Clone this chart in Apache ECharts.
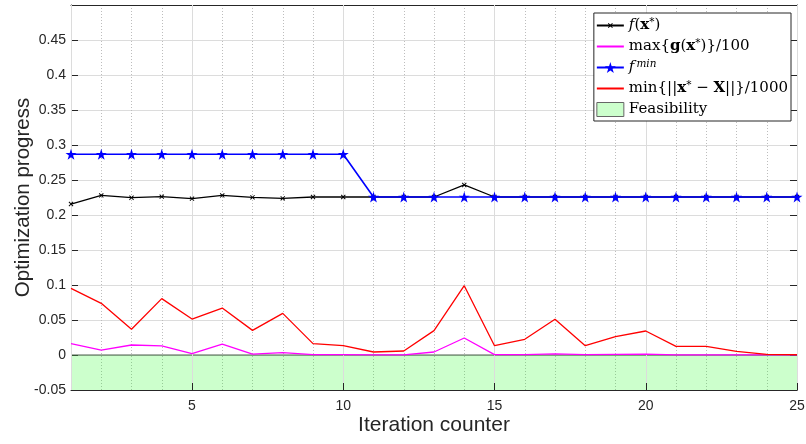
<!DOCTYPE html>
<html>
<head>
<meta charset="utf-8">
<script src="https://cdn.jsdelivr.net/npm/echarts@6/dist/echarts.min.js"></script>
<style>
  html, body { margin: 0; padding: 0; background: #fff; }
  #chart { width: 806px; height: 444px; }
</style>
</head>
<body>
<div id="chart"></div>
<script>
// Iteration index
const iterations = [1, 2, 3, 4, 5, 6, 7, 8, 9, 10, 11, 12, 13, 14, 15, 16, 17, 18, 19, 20, 21, 22, 23, 24, 25];
// Objective value at current point f(x*)
const fStar = [0.2157, 0.2280, 0.2247, 0.2262, 0.2233, 0.2280, 0.2252, 0.2238, 0.2257, 0.2257,
               0.2257, 0.2257, 0.2257, 0.2429, 0.2257, 0.2257, 0.2257, 0.2257, 0.2257, 0.2257,
               0.2257, 0.2257, 0.2257, 0.2257, 0.2257];
// Max constraint value / 100
const maxG = [0.0162, 0.0071, 0.0143, 0.0129, 0.0019, 0.0157, 0.0013, 0.0033, 0.0005, 0.0005,
              0.0002, 0.0002, 0.0043, 0.0243, 0.0005, 0.0005, 0.0015, 0.0005, 0.0008, 0.0012,
              0.0003, 0.0003, 0.0003, 0.0003, 0.0003];
// Best feasible objective so far
const fMin = [0.2867, 0.2867, 0.2867, 0.2867, 0.2867, 0.2867, 0.2867, 0.2867, 0.2867, 0.2867,
              0.2257, 0.2257, 0.2257, 0.2257, 0.2257, 0.2257, 0.2257, 0.2257, 0.2257, 0.2257,
              0.2257, 0.2257, 0.2257, 0.2257, 0.2257];
// Minimum distance to sample set / 1000
const minDist = [0.0952, 0.0738, 0.0367, 0.0805, 0.0514, 0.0671, 0.0352, 0.0595, 0.0162, 0.0133,
                 0.0043, 0.0057, 0.0348, 0.0990, 0.0133, 0.0224, 0.0510, 0.0133, 0.0262, 0.0343,
                 0.0124, 0.0124, 0.0052, 0.0010, 0.0005];
// Feasible region boundary (filled down to the axis minimum)
const feasX = [1, 25];
const feasY = [0, 0];
// Axis ranges and ticks
const xRange = [1, 25];
const yRange = [-0.05, 0.5];
const yStep = 0.05;

const pairs = (xs, ys) => xs.map((x, i) => [x, ys[i]]);

const axisColor = '#262626';
const sansFont = 'Liberation Sans, Arial, sans-serif';
const serifFont = 'DejaVu Serif, Liberation Serif, serif';
// Tiny corner specks pin each marker's bounding box, so the inner glyph keeps
// the same proportion in the plot and in the legend swatch.
const frame = 'M0,0L0.01,0L0,0.01Z M10,10L9.99,10L10,9.99Z ';
const crossMark = 'path://' + frame + 'M2.8,3.4L3.4,2.8L5,4.4L6.6,2.8L7.2,3.4L5.6,5L7.2,6.6L6.6,7.2L5,5.6L3.4,7.2L2.8,6.6L4.4,5Z';
const noMark = 'path://' + frame;
const starMark = 'path://M50,0L61.8,36.2L100,36.2L69.1,58.6L80.9,95.1L50,72.7L19.1,95.1L30.9,58.6L0,36.2L38.2,36.2Z';

const legendText = {
  fx: '{it|f}({b|x}{sup|*})',
  maxg: 'max{{b|g}({b|x}{sup|*})}/100',
  fmin: '{it|f}{supit|min}',
  dist: 'min{||{b|x}{sup|*} \u2212 {b|X}||}/1000',
  feas: 'Feasibility'
};

const chart = echarts.init(document.getElementById('chart'), null, { renderer: 'canvas' });

const option = {
  animation: false,
  backgroundColor: '#ffffff',
  grid: { left: 71, right: 9, top: 5, bottom: 54, containLabel: false, outerBoundsMode: 'none' },
  xAxis: [
    {
      type: 'value', min: xRange[0], max: xRange[1],
      name: 'Iteration counter', nameLocation: 'middle', nameGap: 25, nameMoveOverlap: false,
      nameTextStyle: { fontFamily: sansFont, fontSize: 21, color: axisColor },
      axisLine: { show: true, onZero: false, lineStyle: { color: axisColor, width: 1 } },
      axisTick: { show: true, inside: true, length: 7, lineStyle: { color: axisColor } },
      axisLabel: { showMinLabel: false, margin: 9, fontFamily: sansFont, fontSize: 14, color: axisColor },
      splitLine: { show: true, lineStyle: { color: '#dcdcdc', width: 1, type: 'solid' } },
      z: 3
    },
    {
      // top border with mirrored ticks
      type: 'value', min: xRange[0], max: xRange[1], position: 'top',
      axisLine: { show: true, onZero: false, lineStyle: { color: axisColor, width: 1 } },
      axisTick: { show: true, inside: true, length: 7, lineStyle: { color: axisColor } },
      axisLabel: { show: false }, splitLine: { show: false }
    },
    {
      // unit-spaced dotted minor grid
      type: 'value', min: xRange[0], max: xRange[1], interval: 1, position: 'bottom',
      axisLine: { show: false }, axisTick: { show: false }, axisLabel: { show: false },
      splitLine: { show: true, lineStyle: { color: '#bdbdbd', width: 1, type: [1, 2] } }
    }
  ],
  yAxis: [
    {
      type: 'value', min: yRange[0], max: yRange[1], interval: yStep,
      name: 'Optimization progress', nameLocation: 'middle', nameGap: 37, nameMoveOverlap: false,
      nameTextStyle: { fontFamily: sansFont, fontSize: 20.5, color: axisColor },
      axisLine: { show: true, onZero: false, lineStyle: { color: axisColor, width: 1 } },
      axisTick: { show: true, inside: true, length: 7, lineStyle: { color: axisColor } },
      axisLabel: {
        showMaxLabel: false, margin: 5, fontFamily: sansFont, fontSize: 14, color: axisColor,
        formatter: v => String(+v.toFixed(2))
      },
      splitLine: { show: true, lineStyle: { color: '#dcdcdc', width: 1 } }
    },
    {
      type: 'value', min: yRange[0], max: yRange[1], interval: yStep, position: 'right',
      axisLine: { show: true, onZero: false, lineStyle: { color: axisColor, width: 1 } },
      axisTick: { show: true, inside: true, length: 7, lineStyle: { color: axisColor } },
      axisLabel: { show: false }, splitLine: { show: false }
    }
  ],
  legend: {
    orient: 'vertical',
    right: 15, top: 13,
    padding: [4, 3, 3, 2],
    backgroundColor: '#ffffff',
    borderColor: '#262626', borderWidth: 1,
    itemWidth: 27, itemHeight: 14, itemGap: 4,
    selectedMode: false,
    textStyle: {
      fontFamily: serifFont, fontSize: 15, color: '#000', lineHeight: 17,
      rich: {
        it: { fontFamily: serifFont, fontSize: 15, fontStyle: 'italic', color: '#000' },
        b: { fontFamily: serifFont, fontSize: 15, fontWeight: 'bold', color: '#000' },
        sup: { fontFamily: serifFont, fontSize: 10.5, color: '#000', verticalAlign: 'top' },
        supit: { fontFamily: serifFont, fontSize: 10.5, fontStyle: 'italic', color: '#000', verticalAlign: 'top', padding: [0, 0, 0, 2] }
      }
    },
    formatter: name => legendText[name],
    data: [
      { name: 'fx' },
      { name: 'maxg' },
      { name: 'fmin' },
      { name: 'dist' },
      { name: 'feas', icon: 'rect', itemStyle: { color: '#ccffcc', borderColor: '#666666', borderWidth: 1 } }
    ]
  },
  series: [
    {
      name: 'feas', type: 'line', xAxisIndex: 0, yAxisIndex: 0,
      data: pairs(feasX, feasY), symbol: 'none', z: 1,
      lineStyle: { color: '#4d5f4d', width: 1 },
      itemStyle: { color: '#ccffcc' },
      areaStyle: { color: 'rgba(0,255,0,0.2)', opacity: 1, origin: 'start' }
    },
    {
      name: 'fx', type: 'line', data: pairs(iterations, fStar), z: 4,
      symbol: crossMark, symbolSize: 11, showSymbol: true,
      lineStyle: { color: '#000000', width: 1.3 },
      itemStyle: { color: '#000000' }
    },
    {
      name: 'maxg', type: 'line', data: pairs(iterations, maxG), z: 4,
      symbol: noMark, showSymbol: false,
      lineStyle: { color: '#ff00ff', width: 1.3 },
      itemStyle: { color: '#ff00ff' }
    },
    {
      name: 'fmin', type: 'line', data: pairs(iterations, fMin), z: 5,
      symbol: starMark, symbolSize: 11, clip: false,
      lineStyle: { color: '#0000ff', width: 1.6 },
      itemStyle: { color: '#0000ff' }
    },
    {
      name: 'dist', type: 'line', data: pairs(iterations, minDist), z: 4,
      symbol: noMark, showSymbol: false,
      lineStyle: { color: '#ff0000', width: 1.3 },
      itemStyle: { color: '#ff0000' }
    }
  ]
};

chart.setOption(option);
</script>
</body>
</html>
